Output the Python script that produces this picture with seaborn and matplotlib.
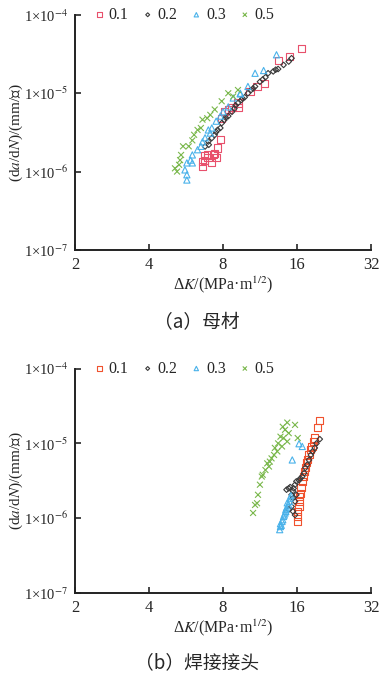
import seaborn as sns
import matplotlib.pyplot as plt

# ---- data ----
ratios = ["0.1", "0.2", "0.3", "0.5"]

# (a) base metal
base_dk_01 = [16.7, 14.9, 13.4, 11.8, 11.0, 10.3, 9.2, 9.2, 8.7, 8.4, 8.1, 7.9,
              7.8, 7.6, 7.4, 7.3, 7.5, 6.9, 6.7, 6.95, 6.7, 6.6, 7.2, 6.6]
base_rate_01 = [3.7e-5, 2.95e-5, 2.6e-5, 1.35e-5, 1.22e-5, 1.05e-5, 7.5e-6, 6.5e-6,
                6.5e-6, 6.2e-6, 5.8e-6, 4.8e-6, 2.54e-6, 2.0e-6, 1.72e-6, 1.63e-6,
                1.5e-6, 1.63e-6, 1.6e-6, 1.5e-6, 1.4e-6, 1.34e-6, 1.29e-6, 1.17e-6]
base_dk_02 = [6.76, 6.97, 7.2, 7.4, 7.5, 7.8, 7.9, 8.1, 8.4, 8.7, 8.9, 9.2, 9.5,
              9.8, 10.1, 10.4, 10.8, 11.3, 11.9, 12.2, 12.8, 13.4, 14.1, 14.8, 15.2,
              7.0, 7.6, 8.2, 9.0, 9.6, 10.6, 11.6, 13.1]
base_rate_02 = [2.09e-6, 2.42e-6, 2.68e-6, 2.94e-6, 3.2e-6, 3.6e-6, 4.15e-6, 4.57e-6,
                5.1e-6, 5.8e-6, 6.4e-6, 7.5e-6, 8.2e-6, 8.9e-6, 1.0e-5, 1.1e-5,
                1.22e-5, 1.4e-5, 1.6e-5, 1.8e-5, 1.9e-5, 2.04e-5, 2.3e-5, 2.54e-5,
                2.8e-5, 2.2e-6, 3.4e-6, 4.9e-6, 7.0e-6, 8.6e-6, 1.15e-5, 1.5e-5, 2.0e-5]
base_dk_03 = [13.2, 11.7, 10.8, 10.1, 9.4, 8.8, 8.4, 8.0, 7.8, 7.5, 7.2, 6.97,
              7.1, 6.76, 6.6, 6.5, 6.3, 6.0, 5.9, 5.7, 6.0, 5.6, 5.7, 5.7, 9.4]
base_rate_03 = [3.1e-5, 1.95e-5, 1.8e-5, 1.22e-5, 1.0e-5, 8.7e-6, 6.7e-6, 5.8e-6,
                5.1e-6, 4.4e-6, 3.6e-6, 3.4e-6, 3.1e-6, 2.7e-6, 2.4e-6, 2.1e-6,
                1.9e-6, 1.63e-6, 1.4e-6, 1.29e-6, 1.29e-6, 1.05e-6, 9.1e-7, 7.8e-7, 9.8e-6]
base_dk_05 = [9.2, 8.4, 8.8, 7.9, 7.4, 7.1, 6.9, 6.6, 6.5, 6.3, 6.1, 6.0, 5.8,
              5.5, 5.4, 5.35, 5.3, 5.1, 5.2]
base_rate_05 = [1.1e-5, 1.0e-5, 9.1e-6, 7.9e-6, 6.2e-6, 5.3e-6, 4.8e-6, 4.6e-6,
                3.6e-6, 3.4e-6, 2.95e-6, 2.5e-6, 2.1e-6, 2.1e-6, 1.63e-6, 1.4e-6,
                1.22e-6, 1.1e-6, 1.0e-6]

# (b) welded joint
weld_dk_01 = [19.8, 19.3, 18.9, 18.6, 18.4, 18.2, 17.9, 17.6, 17.5, 17.3, 17.2,
              17.0, 16.8, 16.6, 16.5, 16.4, 16.4, 16.3, 16.1, 16.1, 16.1]
weld_rate_01 = [2.03e-5, 1.65e-5, 1.18e-5, 1.06e-5, 9.1e-6, 8.2e-6, 7.0e-6, 6.0e-6,
                5.5e-6, 4.7e-6, 4.2e-6, 3.6e-6, 3.1e-6, 2.6e-6, 2.16e-6, 1.94e-6,
                1.67e-6, 1.43e-6, 1.23e-6, 1.05e-6, 9.0e-7]
weld_dk_02 = [19.8, 19.2, 18.9, 18.5, 18.2, 17.9, 17.6, 17.3, 17.1, 16.8, 16.5,
              16.3, 15.9, 15.7, 15.5, 15.4, 15.2, 15.4, 15.7, 15.2, 15.4, 14.8,
              14.5, 15.0, 15.9, 15.7, 14.8]
weld_rate_02 = [1.14e-5, 1.0e-5, 8.7e-6, 7.8e-6, 7.0e-6, 6.0e-6, 5.2e-6, 4.7e-6,
                4.0e-6, 3.6e-6, 3.4e-6, 3.2e-6, 3.1e-6, 2.8e-6, 2.5e-6, 2.3e-6,
                2.05e-6, 1.85e-6, 1.67e-6, 1.43e-6, 1.23e-6, 2.5e-6, 2.4e-6, 2.6e-6,
                2.05e-6, 1.1e-6, 1.3e-6]
weld_dk_03 = [16.3, 16.8, 15.3, 15.0, 14.9, 14.8, 14.5, 14.4, 14.3, 14.1, 14.0,
              13.9, 13.7, 13.7, 13.6, 14.6, 14.2, 13.8, 14.4, 15.1]
weld_rate_03 = [9.9e-6, 9.1e-6, 6.0e-6, 1.85e-6, 1.67e-6, 1.5e-6, 1.37e-6, 1.23e-6,
                1.17e-6, 1.05e-6, 9.5e-7, 9.0e-7, 8.4e-7, 7.7e-7, 7.0e-7, 1.6e-6,
                1.1e-6, 8.0e-7, 1.3e-6, 2.0e-6]
weld_dk_05 = [14.6, 15.7, 14.0, 14.3, 14.8, 13.7, 14.1, 14.6, 13.4, 13.9, 13.0,
              13.3, 12.9, 12.6, 12.4, 12.1, 12.3, 11.9, 11.6, 11.5, 11.3, 11.1,
              11.0, 10.8, 10.6, 16.1]
weld_rate_05 = [1.9e-5, 1.77e-5, 1.67e-5, 1.52e-5, 1.37e-5, 1.23e-5, 1.18e-5,
                1.06e-5, 1.0e-5, 9.1e-6, 8.7e-6, 7.8e-6, 7.0e-6, 6.3e-6, 5.7e-6,
                5.4e-6, 4.9e-6, 4.4e-6, 3.8e-6, 3.6e-6, 2.8e-6, 2.05e-6, 1.58e-6,
                1.5e-6, 1.17e-6, 1.18e-5]

x_ticks = [2, 4, 8, 16, 32]
y_ticks = [1e-7, 1e-6, 1e-5, 1e-4]
y_tick_labels = ["1×10$^{-7}$", "1×10$^{-6}$", "1×10$^{-5}$", "1×10$^{-4}$"]

# ---- style ----
sns.set_style("ticks")
plt.rcParams["font.family"] = ["Liberation Serif", "Noto Sans CJK SC"]
plt.rcParams["mathtext.fontset"] = "stix"

markers = ["s", "D", "^", "x"]
sizes = [26, 8, 20, 18]

fig = plt.figure(figsize=(3.79, 6.79), dpi=100)
ax_a = fig.add_axes([0.198, 0.632, 0.781, 0.346])
ax_b = fig.add_axes([0.198, 0.127, 0.781, 0.330])

panels = [
    (ax_a, [(base_dk_01, base_rate_01), (base_dk_02, base_rate_02),
            (base_dk_03, base_rate_03), (base_dk_05, base_rate_05)],
     ["#e8506c", "#3a3a3a", "#4ab2ea", "#7ab84c"], "（a）母材", 1 - 323 / 679),
    (ax_b, [(weld_dk_01, weld_rate_01), (weld_dk_02, weld_rate_02),
            (weld_dk_03, weld_rate_03), (weld_dk_05, weld_rate_05)],
     ["#f0522e", "#3a3a3a", "#4ab2ea", "#7ab84c"], "（b）焊接接头", 1 - 663 / 679),
]

for ax, series, colors, caption, cap_y in panels:
    for (dk, rate), lab, m, s, c in zip(series, ratios, markers, sizes, colors):
        sns.scatterplot(x=dk, y=rate, marker=m, s=s, color=c, linewidth=0.8,
                        legend=False, ax=ax, label=lab)
        coll = ax.collections[-1]
        coll.set_facecolor("none")
        coll.set_edgecolor(c)
        coll.set_linewidth(0.8)

    ax.set_xscale("log", base=2)
    ax.set_yscale("log")
    ax.set_xlim(2, 32)
    ax.set_ylim(1e-7, 1e-4)
    ax.set_xticks(x_ticks)
    ax.set_xticklabels([str(t) for t in x_ticks])
    ax.set_yticks(y_ticks)
    ax.set_yticklabels(y_tick_labels)
    ax.minorticks_off()
    ax.tick_params(direction="in", length=4, width=1.2, labelsize=12, pad=5)
    ax.tick_params(axis="y", labelsize=10.5, pad=5)
    for sp in ["top", "right"]:
        ax.spines[sp].set_visible(False)
    for sp in ["left", "bottom"]:
        ax.spines[sp].set_linewidth(1.4)
        ax.spines[sp].set_color("#222222")

    ax.set_xlabel("Δ$K$/(MPa·m$^{1/2}$)", fontsize=11.5, labelpad=1)
    ax.set_ylabel("(d$a$/d$N$)/(mm/次)", fontsize=11)
    ax.yaxis.set_label_coords(-0.17, 0.5)

    ax.legend(handles=ax.collections[:4], labels=ratios, loc="center left",
              bbox_to_anchor=(0.065, 1.0), ncol=4, frameon=False,
              handlelength=0.6, handletextpad=0.3, columnspacing=0.9,
              borderpad=0, borderaxespad=0, markerscale=0.7, fontsize=11.5)

    fig.text(0.52, cap_y, caption, ha="center", va="center", fontsize=13.5,
             family=["Noto Sans CJK SC", "DejaVu Sans"])

fig.savefig("out.png", dpi=100)
